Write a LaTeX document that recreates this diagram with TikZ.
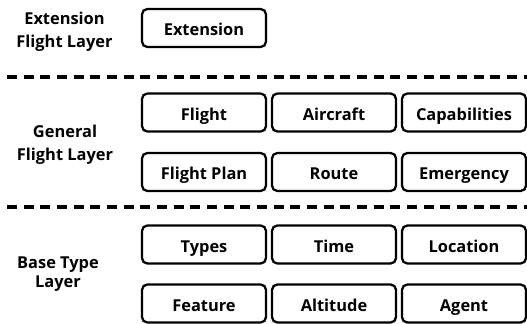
\documentclass[tikz,border=0pt]{standalone}
\usepackage{fontspec}
\setmainfont{Open Sans}
\begin{document}
\begin{tikzpicture}[x=0.75pt,y=-0.75pt,
  module/.style={draw=black,line width=1.7pt,rounded corners=4pt,fill=white,
    minimum width=124*0.75pt,minimum height=38*0.75pt,inner sep=0pt,
    text height=11.5pt,text depth=0.1pt,
    font=\fontsize{12.3pt}{14pt}\selectfont\bfseries},
  layername/.style={align=center,font=\fontsize{12.3pt}{17pt}\selectfont\bfseries},
  divider/.style={line width=2.6pt,dash pattern=on 7.5pt off 5pt}]
\useasboundingbox (0,0) rectangle (527,324);

% extension layer
\node[layername] (extlbl) at (64.5,31.5) {Extension\\Flight Layer};
\node[module] (ext) at (204,28) {Extension};

\coordinate (d1l) at (7,77);
\coordinate (d1r) at (527,77);
\draw[divider] (d1l) -- (d1r);

% general flight layer
\node[layername] (genlbl) at (65,144.5) {General\\Flight Layer};
\node[module] (flight) at (204,112.5) {Flight};
\node[module] (aircraft) at (334,112.5) {Aircraft};
\node[module] (cap) at (464,112.5) {Capabilities};
\node[module] (plan) at (204,172) {Flight Plan};
\node[module] (route) at (334,172) {Route};
\node[module] (emerg) at (464,172) {Emergency};

\coordinate (d2l) at (7,207);
\coordinate (d2r) at (527,207);
\draw[divider] (d2l) -- (d2r);

% base type layer
\node[layername,font=\fontsize{12.3pt}{14pt}\selectfont\bfseries] (baselbl) at (58,274) {Base Type\\Layer};
\node[module] (types) at (204,244.5) {Types};
\node[module] (time) at (334,244.5) {Time};
\node[module] (loc) at (464,244.5) {Location};
\node[module] (feat) at (204,303.5) {Feature};
\node[module] (alt) at (334,303.5) {Altitude};
\node[module] (agent) at (464,303.5) {Agent};
\end{tikzpicture}
\end{document}
